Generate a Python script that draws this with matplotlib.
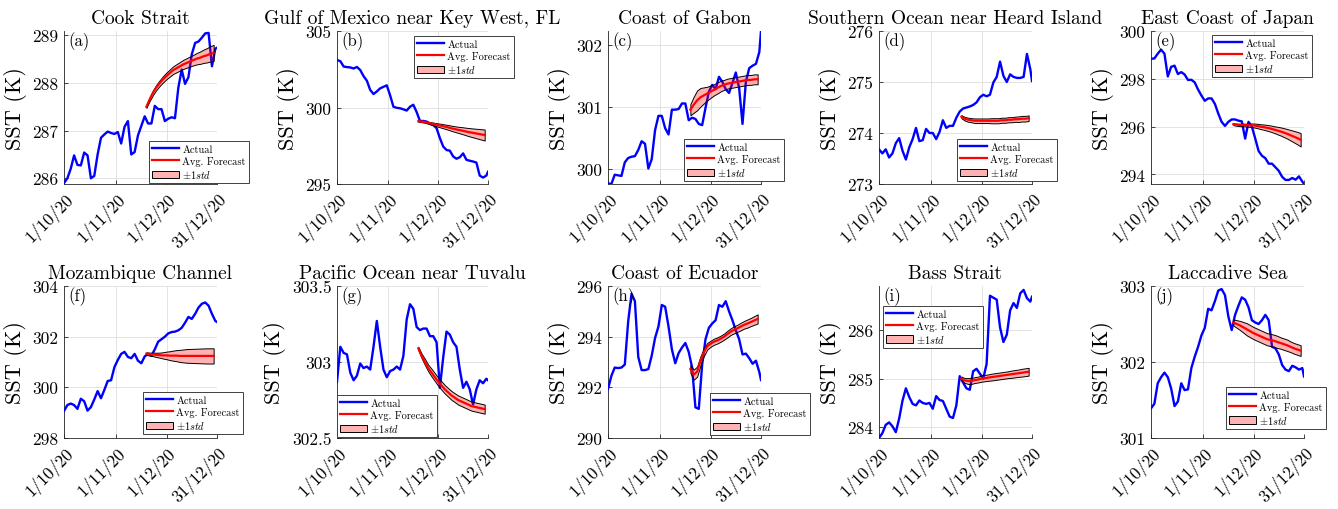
import numpy as np
import matplotlib
matplotlib.use("Agg")
import matplotlib.pyplot as plt
from matplotlib.ticker import FuncFormatter

plt.rcParams['font.family'] = 'serif'
plt.rcParams['font.serif'] = ['cmr10']
plt.rcParams['mathtext.fontset'] = 'cm'
plt.rcParams['axes.formatter.use_mathtext'] = True

# days since 1 Oct 2020
days = list(range(0, 91, 2)) + [91]
fc_days = list(range(49, 90, 2))

titles = ["Cook Strait", "Gulf of Mexico near Key West, FL", "Coast of Gabon",
          "Southern Ocean near Heard Island", "East Coast of Japan",
          "Mozambique Channel", "Pacific Ocean near Tuvalu", "Coast of Ecuador",
          "Bass Strait", "Laccadive Sea"]
panel_tags = ["(a)", "(b)", "(c)", "(d)", "(e)", "(f)", "(g)", "(h)", "(i)", "(j)"]
date_ticks = [0, 31, 61, 91]
date_labels = ["1/10/20", "1/11/20", "1/12/20", "31/12/20"]

actual_a = [285.90, 286.00, 286.20, 286.48, 286.28, 286.27, 286.54, 286.48, 286.00, 286.05,
            286.50, 286.85, 286.92, 286.98, 286.95, 286.93, 286.97, 286.73, 287.08, 287.20,
            286.50, 286.55, 286.90, 287.10, 287.30, 287.15, 287.15, 287.52, 287.45, 287.45,
            287.20, 287.25, 287.28, 287.26, 287.90, 288.28, 287.98, 288.12, 288.60, 288.84,
            288.87, 288.95, 289.04, 289.05, 288.35, 288.72, 288.74]
actual_b = [303.10, 303.03, 302.68, 302.64, 302.62, 302.55, 302.65, 302.45, 302.05, 301.75,
            301.15, 300.88, 301.05, 301.25, 301.35, 301.45, 300.80, 300.05, 299.98, 299.95,
            299.88, 299.80, 300.05, 300.18, 299.70, 299.12, 299.12, 299.08, 298.95, 298.85,
            298.65, 298.00, 297.45, 297.22, 297.18, 296.80, 296.65, 296.75, 297.00, 296.58,
            296.52, 296.47, 296.40, 295.55, 295.42, 295.55, 295.80]
actual_c = [299.76, 299.75, 299.90, 299.89, 299.88, 300.10, 300.17, 300.19, 300.20, 300.30,
            300.44, 300.40, 300.00, 300.15, 300.62, 300.85, 300.85, 300.65, 300.55, 300.95,
            300.95, 300.96, 301.05, 301.05, 300.78, 300.82, 300.80, 300.72, 300.70, 300.98,
            301.24, 301.35, 301.28, 301.48, 301.40, 301.28, 301.22, 301.38, 301.55, 301.30,
            300.72, 301.40, 301.62, 301.66, 301.69, 301.88, 302.22]
actual_d = [273.68, 273.60, 273.68, 273.52, 273.60, 273.80, 273.90, 273.65, 273.48, 273.72,
            273.88, 274.10, 273.84, 273.86, 274.08, 274.00, 274.00, 273.88, 274.02, 274.25,
            274.10, 274.14, 274.14, 274.30, 274.42, 274.48, 274.50, 274.52, 274.55, 274.60,
            274.70, 274.75, 274.72, 274.75, 274.99, 275.10, 275.40, 275.12, 275.00, 275.15,
            275.10, 275.08, 275.08, 275.10, 275.55, 275.25, 275.02]
actual_e = [298.84, 298.85, 299.05, 299.22, 299.05, 298.10, 298.50, 298.55, 298.20, 298.28,
            298.18, 297.95, 297.96, 297.85, 297.55, 297.30, 297.08, 297.18, 297.18, 296.95,
            296.55, 296.20, 296.03, 296.20, 296.30, 296.30, 296.25, 296.22, 295.50, 296.20,
            296.00, 295.50, 294.98, 294.78, 294.68, 294.45, 294.45, 294.30, 294.15, 293.90,
            293.77, 293.77, 293.85, 293.78, 293.92, 293.70, 293.61]
actual_f = [299.07, 299.30, 299.36, 299.30, 299.15, 299.55, 299.45, 299.08, 299.22, 299.52,
            299.85, 299.57, 299.90, 300.25, 300.28, 300.80, 301.08, 301.32, 301.40, 301.20,
            301.15, 301.32, 301.05, 300.95, 301.22, 301.32, 301.25, 301.50, 301.80, 301.90,
            302.00, 302.13, 302.18, 302.20, 302.25, 302.35, 302.55, 302.78, 302.70, 302.90,
            303.15, 303.30, 303.35, 303.22, 302.90, 302.62, 302.58]
actual_g = [302.87, 303.10, 303.06, 303.05, 302.93, 302.88, 302.91, 302.99, 302.96, 302.97,
            302.95, 303.10, 303.27, 303.10, 302.95, 302.90, 302.94, 302.95, 302.97, 302.95,
            303.04, 303.28, 303.38, 303.35, 303.23, 303.21, 303.22, 303.22, 303.17, 303.17,
            303.13, 302.83, 303.03, 303.20, 303.18, 303.13, 303.10, 302.95, 302.83, 302.87,
            302.82, 302.72, 302.82, 302.88, 302.86, 302.89, 302.88]
actual_h = [291.93, 292.45, 292.78, 292.76, 292.78, 292.90, 294.60, 295.70, 295.40, 293.20,
            292.68, 292.68, 292.72, 293.25, 293.95, 294.40, 295.25, 295.18, 294.40, 293.50,
            292.95, 293.35, 293.57, 293.75, 293.40, 292.79, 291.21, 291.15, 292.90, 293.90,
            294.35, 294.52, 294.65, 295.25, 295.18, 295.40, 295.00, 294.65, 294.25, 293.90,
            293.30, 293.33, 293.15, 292.93, 293.05, 292.60, 292.29]
actual_i = [283.78, 283.88, 284.05, 284.10, 284.02, 283.90, 284.18, 284.55, 284.80, 284.62,
            284.48, 284.45, 284.55, 284.50, 284.48, 284.50, 284.38, 284.64, 284.56, 284.54,
            284.38, 284.22, 284.19, 284.45, 285.05, 284.92, 284.80, 284.77, 285.15, 285.20,
            285.10, 285.00, 285.30, 286.70, 286.66, 286.62, 286.05, 285.75, 285.90, 286.40,
            286.55, 286.45, 286.75, 286.82, 286.65, 286.58, 286.68]
actual_j = [301.39, 301.45, 301.72, 301.80, 301.86, 301.80, 301.65, 301.42, 301.48, 301.72,
            301.63, 301.64, 301.92, 302.07, 302.20, 302.35, 302.45, 302.70, 302.68, 302.80,
            302.94, 302.96, 302.88, 302.60, 302.42, 302.62, 302.74, 302.85, 302.82, 302.72,
            302.55, 302.52, 302.50, 302.55, 302.62, 302.55, 302.20, 302.18, 302.10, 301.96,
            301.90, 301.88, 301.95, 301.93, 301.90, 301.92, 301.81]

mean_a = [287.50, 287.66, 287.80, 287.91, 288.00, 288.08, 288.15, 288.21, 288.27, 288.31, 288.35,
          288.39, 288.42, 288.45, 288.48, 288.51, 288.53, 288.56, 288.58, 288.61, 288.63]
std_a = [0.02, 0.035, 0.05, 0.055, 0.06, 0.065, 0.07, 0.075, 0.08, 0.085, 0.09,
         0.095, 0.10, 0.105, 0.11, 0.12, 0.13, 0.14, 0.15, 0.16, 0.17]
mean_b = [299.10, 299.08, 299.05, 299.00, 298.95, 298.90, 298.85, 298.80, 298.75, 298.70, 298.64,
          298.59, 298.54, 298.50, 298.45, 298.40, 298.36, 298.32, 298.28, 298.24, 298.20]
std_b = [0.03, 0.04, 0.05, 0.065, 0.08, 0.095, 0.11, 0.125, 0.14, 0.155, 0.17,
         0.185, 0.20, 0.22, 0.24, 0.26, 0.28, 0.30, 0.32, 0.34, 0.36]
mean_c = [300.95, 301.03, 301.10, 301.15, 301.18, 301.21, 301.24, 301.27, 301.30, 301.33, 301.35,
          301.37, 301.38, 301.39, 301.40, 301.41, 301.42, 301.43, 301.43, 301.44, 301.44]
std_c = [0.09, 0.13, 0.16, 0.15, 0.13, 0.11, 0.10, 0.09, 0.09, 0.085, 0.08,
         0.08, 0.08, 0.08, 0.08, 0.08, 0.08, 0.08, 0.08, 0.08, 0.08]
mean_d = [274.32, 274.28, 274.26, 274.25, 274.24, 274.24, 274.24, 274.24, 274.24, 274.24, 274.24,
          274.24, 274.25, 274.25, 274.26, 274.26, 274.27, 274.27, 274.28, 274.28, 274.29]
std_d = [0.03, 0.035, 0.04, 0.04, 0.045, 0.045, 0.045, 0.045, 0.045, 0.05, 0.05,
         0.05, 0.05, 0.05, 0.05, 0.05, 0.05, 0.055, 0.055, 0.055, 0.055]
mean_e = [296.10, 296.08, 296.07, 296.07, 296.06, 296.06, 296.05, 296.03, 296.00, 295.98, 295.95,
          295.92, 295.88, 295.84, 295.80, 295.75, 295.70, 295.64, 295.58, 295.52, 295.45]
std_e = [0.04, 0.045, 0.05, 0.055, 0.06, 0.07, 0.08, 0.09, 0.10, 0.11, 0.12,
         0.13, 0.14, 0.155, 0.17, 0.185, 0.20, 0.22, 0.24, 0.26, 0.28]
mean_f = [301.33, 301.31, 301.30, 301.28, 301.27, 301.26, 301.26, 301.25, 301.25, 301.25, 301.24,
          301.24, 301.24, 301.24, 301.24, 301.24, 301.24, 301.24, 301.24, 301.24, 301.24]
std_f = [0.05, 0.06, 0.07, 0.085, 0.10, 0.125, 0.15, 0.175, 0.20, 0.22, 0.24,
         0.255, 0.27, 0.275, 0.28, 0.285, 0.29, 0.295, 0.30, 0.30, 0.30]
mean_g = [303.09, 303.04, 303.00, 302.96, 302.93, 302.90, 302.87, 302.845, 302.82, 302.80, 302.78,
          302.765, 302.75, 302.74, 302.73, 302.72, 302.71, 302.705, 302.70, 302.695, 302.69]
std_g = [0.01, 0.015, 0.02, 0.022, 0.025, 0.026, 0.027, 0.0275, 0.028, 0.028, 0.029,
         0.029, 0.03, 0.03, 0.03, 0.03, 0.03, 0.03, 0.03, 0.03, 0.03]
mean_h = [292.72, 292.50, 292.62, 293.05, 293.38, 293.62, 293.72, 293.80, 293.85, 293.92, 294.00,
          294.10, 294.20, 294.27, 294.33, 294.40, 294.47, 294.52, 294.58, 294.64, 294.70]
std_h = [0.15, 0.20, 0.20, 0.18, 0.15, 0.13, 0.12, 0.12, 0.12, 0.12, 0.12,
         0.13, 0.13, 0.14, 0.14, 0.15, 0.15, 0.16, 0.16, 0.17, 0.18]
mean_i = [285.00, 284.96, 284.95, 284.95, 284.97, 284.98, 285.00, 285.01, 285.02, 285.03, 285.04,
          285.05, 285.06, 285.07, 285.08, 285.09, 285.10, 285.11, 285.12, 285.13, 285.14]
std_i = [0.04, 0.05, 0.06, 0.06, 0.06, 0.06, 0.065, 0.065, 0.065, 0.07, 0.07,
         0.07, 0.07, 0.07, 0.07, 0.075, 0.075, 0.075, 0.08, 0.08, 0.08]
mean_j = [302.52, 302.50, 302.48, 302.455, 302.43, 302.405, 302.38, 302.36, 302.34, 302.32, 302.30,
          302.29, 302.28, 302.265, 302.25, 302.235, 302.22, 302.20, 302.18, 302.165, 302.15]
std_j = [0.04, 0.05, 0.06, 0.07, 0.08, 0.08, 0.08, 0.08, 0.08, 0.08, 0.08,
         0.08, 0.08, 0.08, 0.075, 0.075, 0.075, 0.07, 0.07, 0.07, 0.07]

actuals = [actual_a, actual_b, actual_c, actual_d, actual_e,
           actual_f, actual_g, actual_h, actual_i, actual_j]
means = [mean_a, mean_b, mean_c, mean_d, mean_e, mean_f, mean_g, mean_h, mean_i, mean_j]
stds = [std_a, std_b, std_c, std_d, std_e, std_f, std_g, std_h, std_i, std_j]

ylims = [(285.88, 289.09), (295, 305), (299.75, 302.22), (273, 276), (293.6, 300),
         (298, 304), (302.5, 303.5), (290, 296), (283.78, 286.9), (301, 303)]
yticks = [[286, 287, 288, 289], [295, 300, 305], [300, 301, 302], [273, 274, 275, 276],
          [294, 296, 298, 300], [298, 300, 302, 304], [302.5, 303, 303.5],
          [290, 292, 294, 296], [284, 285, 286], [301, 302, 303]]

# layout in pixels
W, H = 1338, 510
col_x = [(64, 217), (337, 488), (608, 761), (879, 1032), (1151, 1304)]
row_y = [(32, 185), (287, 439)]
# legend upper-left corners (pixels)
leg_pos = [(149, 142), (414, 37), (684, 140), (957, 140), (1212, 36),
           (143, 393), (337, 396), (710, 394), (883, 307), (1226, 388)]

fig = plt.figure(figsize=(W / 100, H / 100), dpi=100)

for k in range(10):
    r, c = divmod(k, 5)
    x0, x1 = col_x[c]
    y0, y1 = row_y[r]
    ax = fig.add_axes([x0 / W, 1 - y1 / H, (x1 - x0) / W, (y1 - y0) / H])

    l1, = ax.plot(days, actuals[k], color='#0000ff', lw=1.7, zorder=3)
    m = np.array(means[k])
    s = np.array(stds[k])
    band = ax.fill_between(fc_days, m - s, m + s, facecolor=(1, 0, 0, 0.3),
                           edgecolor='black', linewidth=0.7, zorder=4)
    l2, = ax.plot(fc_days, m, color='#ff0000', lw=1.6, zorder=5)

    ax.set_xlim(0, 91)
    ax.set_ylim(*ylims[k])
    ax.set_yticks(yticks[k])
    ax.yaxis.set_major_formatter(FuncFormatter(lambda v, p: f'{v:g}'))
    ax.set_xticks(date_ticks)
    ax.set_xticklabels(date_labels, rotation=45, ha='right', rotation_mode='anchor')
    ax.tick_params(direction='in', length=3, width=0.6, labelsize=12.5, pad=4, color='#262626')
    ax.grid(True, color='#dedede', lw=0.6)
    ax.set_axisbelow(True)
    for side in ['top', 'right']:
        ax.spines[side].set_visible(False)
    for side in ['left', 'bottom']:
        ax.spines[side].set_color('#262626')
        ax.spines[side].set_linewidth(0.6)

    ax.set_title(titles[k], fontsize=14, pad=6)
    ax.set_ylabel('SST (K)', fontsize=16, labelpad=4)
    ax.text(0.03, 0.995, panel_tags[k], transform=ax.transAxes, fontsize=12,
            ha='left', va='top', zorder=6)

    lx, ly = leg_pos[k]
    leg = ax.legend([l1, l2, band], ['Actual', 'Avg. Forecast', r'$\pm1std$'],
                    loc='upper left', bbox_to_anchor=(lx / W, 1 - ly / H),
                    bbox_transform=fig.transFigure, fontsize=7.5, fancybox=False,
                    framealpha=1, edgecolor='#404040', borderaxespad=0, borderpad=0.3,
                    handlelength=2.6, handletextpad=0.3, labelspacing=0.2)
    leg.get_frame().set_linewidth(0.7)

fig.savefig('out.png', dpi=100)
